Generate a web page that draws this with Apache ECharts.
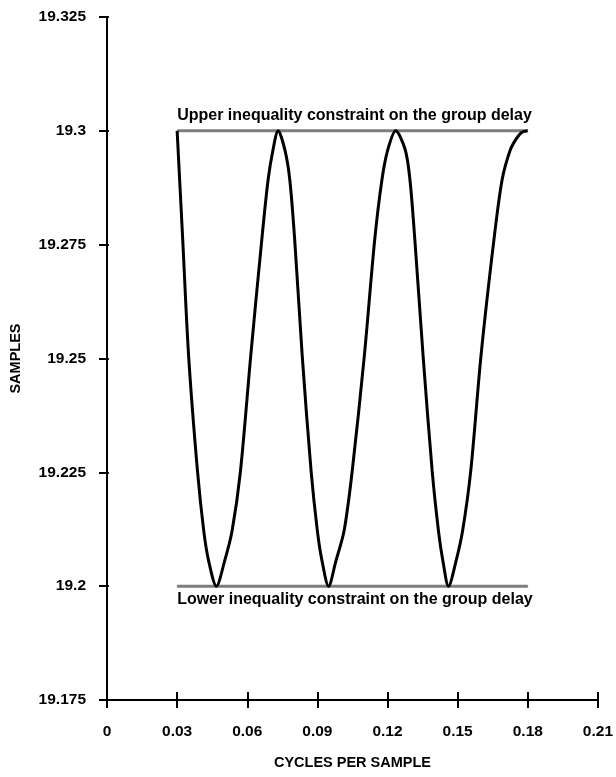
<!DOCTYPE html>
<html>
<head>
<meta charset="utf-8">
<script src="https://cdn.jsdelivr.net/npm/echarts@6/dist/echarts.min.js"></script>
<style>
html,body{margin:0;padding:0;background:#fff;}
#chart{width:616px;height:777px;}
</style>
</head>
<body>
<div id="chart"></div>
<script>
// Data
const freq = [0.0300,0.0324,0.0349,0.0387,0.0414,0.0435,0.0468,0.0503,0.0535,0.0571,0.0615,0.0662,0.0689,0.0710,0.0732,
  0.0761,0.0782,0.0803,0.0835,0.0873,0.0900,0.0920,0.0948,0.0979,0.1014,0.1049,0.1101,0.1145,0.1176,0.1201,0.1235,
  0.1276,0.1296,0.1317,0.1352,0.1391,0.1418,0.1437,0.1461,0.1493,0.1521,0.1556,0.1600,0.1655,0.1690,0.1725,0.1754,0.1775,0.1800];
const delay = [19.3000,19.2760,19.2507,19.2253,19.2121,19.2055,19.2000,19.2055,19.2121,19.2253,19.2507,19.2760,19.2892,19.2958,19.3000,
  19.2958,19.2892,19.2760,19.2507,19.2253,19.2121,19.2055,19.2000,19.2055,19.2121,19.2253,19.2507,19.2760,19.2892,19.2958,19.3000,
  19.2958,19.2892,19.2760,19.2507,19.2253,19.2121,19.2055,19.2000,19.2055,19.2121,19.2253,19.2507,19.2760,19.2892,19.2958,19.2985,19.2997,19.3000];
const constraintX = [0.03, 0.18];
const upperValue = 19.3;
const lowerValue = 19.2;
const upperLabel = 'Upper inequality constraint on the group delay';
const lowerLabel = 'Lower inequality constraint on the group delay';
const xTicks = {min: 0, max: 0.21, interval: 0.03};
const yTicks = {min: 19.175, max: 19.325, interval: 0.025};
const xName = 'CYCLES PER SAMPLE';
const yName = 'SAMPLES';

const font = 'Liberation Sans, Arial, Helvetica, sans-serif';
const chart = echarts.init(document.getElementById('chart'));
const fmt = v => String(+v.toFixed(3));
const axisLine = {show: true, onZero: false, lineStyle: {color: '#000', width: 2}};
const hiddenLine = {show: false, onZero: false};
const tickOut = {show: true, inside: false, length: 8, lineStyle: {color: '#000', width: 2}};
const labelStyle = {color: '#000', fontSize: 16, fontWeight: 'bold', fontFamily: font};

chart.setOption({
  animation: false,
  backgroundColor: '#fff',
  grid: {left: 105, right: 14, top: 17, bottom: 77},
  xAxis: [{
    type: 'value', min: xTicks.min, max: xTicks.max, interval: xTicks.interval,
    axisLine: axisLine, axisTick: tickOut, splitLine: {show: false},
    axisLabel: {formatter: fmt, margin: 24, color: '#000', fontSize: 15.5, fontWeight: 'bold', fontFamily: font},
    name: xName, nameLocation: 'middle', nameGap: 55,
    nameTextStyle: {color: '#000', fontSize: 14.5, fontWeight: 'bold', fontFamily: font}
  }, {
    type: 'value', position: 'top', offset: -683, min: xTicks.min, max: xTicks.max, interval: xTicks.interval,
    axisLine: hiddenLine, axisTick: tickOut, axisLabel: {show: false}, splitLine: {show: false}
  }],
  yAxis: [{
    type: 'value', min: yTicks.min, max: yTicks.max, interval: yTicks.interval,
    axisLine: axisLine, axisTick: tickOut, splitLine: {show: false},
    axisLabel: {formatter: fmt, margin: 21, color: '#000', fontSize: 15.5, fontWeight: 'bold', fontFamily: font},
    name: yName, nameLocation: 'middle', nameGap: 84, nameRotate: 90,
    nameTextStyle: {color: '#000', fontSize: 14.5, fontWeight: 'bold', fontFamily: font}
  }, {
    type: 'value', position: 'right', offset: -497, min: yTicks.min, max: yTicks.max, interval: yTicks.interval,
    axisLine: hiddenLine, axisTick: tickOut, axisLabel: {show: false}, splitLine: {show: false}
  }],
  series: [
    {
      type: 'line', name: 'upper', showSymbol: true, symbol: 'circle', symbolSize: 1,
      itemStyle: {color: '#7d7d7d'},
      lineStyle: {color: '#7d7d7d', width: 3},
      data: [
        {value: [constraintX[0], upperValue],
         label: Object.assign({show: true, formatter: upperLabel, position: 'top', distance: 7, align: 'left'}, labelStyle)},
        [constraintX[1], upperValue]
      ]
    },
    {
      type: 'line', name: 'lower', showSymbol: true, symbol: 'circle', symbolSize: 1,
      itemStyle: {color: '#7d7d7d'},
      lineStyle: {color: '#7d7d7d', width: 3},
      data: [
        {value: [constraintX[0], lowerValue],
         label: Object.assign({show: true, formatter: lowerLabel, position: 'bottom', distance: 5, align: 'left'}, labelStyle)},
        [constraintX[1], lowerValue]
      ]
    },
    {
      type: 'line', name: 'delay', xAxisIndex: 1, yAxisIndex: 1, showSymbol: false, symbol: 'none', smooth: 0.3,
      lineStyle: {color: '#000', width: 3},
      data: freq.map((f, i) => [f, delay[i]])
    }
  ]
});
</script>
</body>
</html>
